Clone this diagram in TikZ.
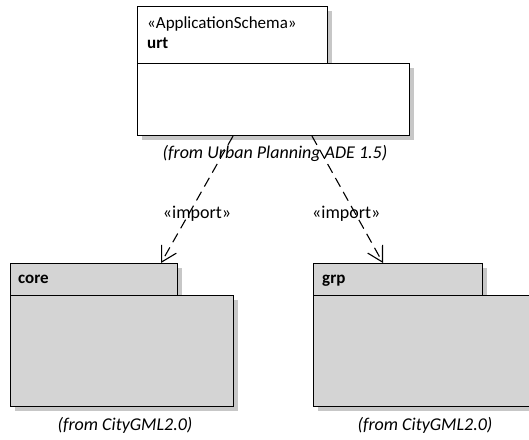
\documentclass[tikz,border=0pt]{standalone}
\usepackage{fontspec}
\setmainfont{Carlito}
\usetikzlibrary{positioning,shadows,arrows.meta}

\begin{document}
\begin{tikzpicture}[x=1pt, y=-1pt,
        pkg/.style={draw, line width=1.1pt, anchor=north west, inner sep=0pt,
            general shadow={fill=black!22, shadow xshift=4pt, shadow yshift=-4pt}},
        import/.style={line width=1.1pt, dash pattern=on 10pt off 6pt,
            -{Straight Barb[length=15pt, width=17pt]}},
        pkgname/.style={anchor=base west, inner sep=0pt, font=\fontsize{17}{20}\selectfont},
        note/.style={font=\fontsize{18}{20}\selectfont\itshape}
    ]
        \useasboundingbox (0,0) rectangle (529,439);

        % urt package
        \node[pkg, fill=white, minimum width=190, minimum height=57] (urttab) at (137,6) {};
        \node[pkg, fill=white, minimum width=272, minimum height=72] (urt) at (137,63) {};
        \node[pkgname] (urtstereo) at (147,28) {«ApplicationSchema»};
        \node[pkgname, font=\fontsize{17}{20}\selectfont\bfseries] (urtname) at (147,48) {urt};
        \node[note] (urtfrom) at (275,153) {(from Urban Planning ADE 1.5)};

        % core package
        \node[pkg, fill=black!17, minimum width=167, minimum height=32] (coretab) at (10,263) {};
        \node[pkg, fill=black!17, minimum width=223, minimum height=111] (core) at (10,295) {};
        \node[pkgname, font=\fontsize{17}{20}\selectfont\bfseries] (corename) at (18,283) {core};
        \node[note] (corefrom) at (125,425) {(from CityGML2.0)};

        % grp package
        \node[pkg, fill=black!17, minimum width=169, minimum height=32] (grptab) at (313,263) {};
        \node[pkg, fill=black!17, minimum width=220, minimum height=111] (grp) at (313,295) {};
        \node[pkgname, font=\fontsize{17}{20}\selectfont\bfseries] (grpname) at (322,283) {grp};
        \node[note] (grpfrom) at (425,425) {(from CityGML2.0)};

        \draw[import] ([xshift=96]urt.south west) -- ([xshift=151]coretab.north west)
        node[pos=0.61, font=\fontsize{18}{20}\selectfont, xshift=8] {«import»};
        \draw[import] ([xshift=175]urt.south west) -- ([xshift=70]grptab.north west)
        node[pos=0.61, font=\fontsize{18}{20}\selectfont, xshift=-9] {«import»};
    \end{tikzpicture}
\end{document}
